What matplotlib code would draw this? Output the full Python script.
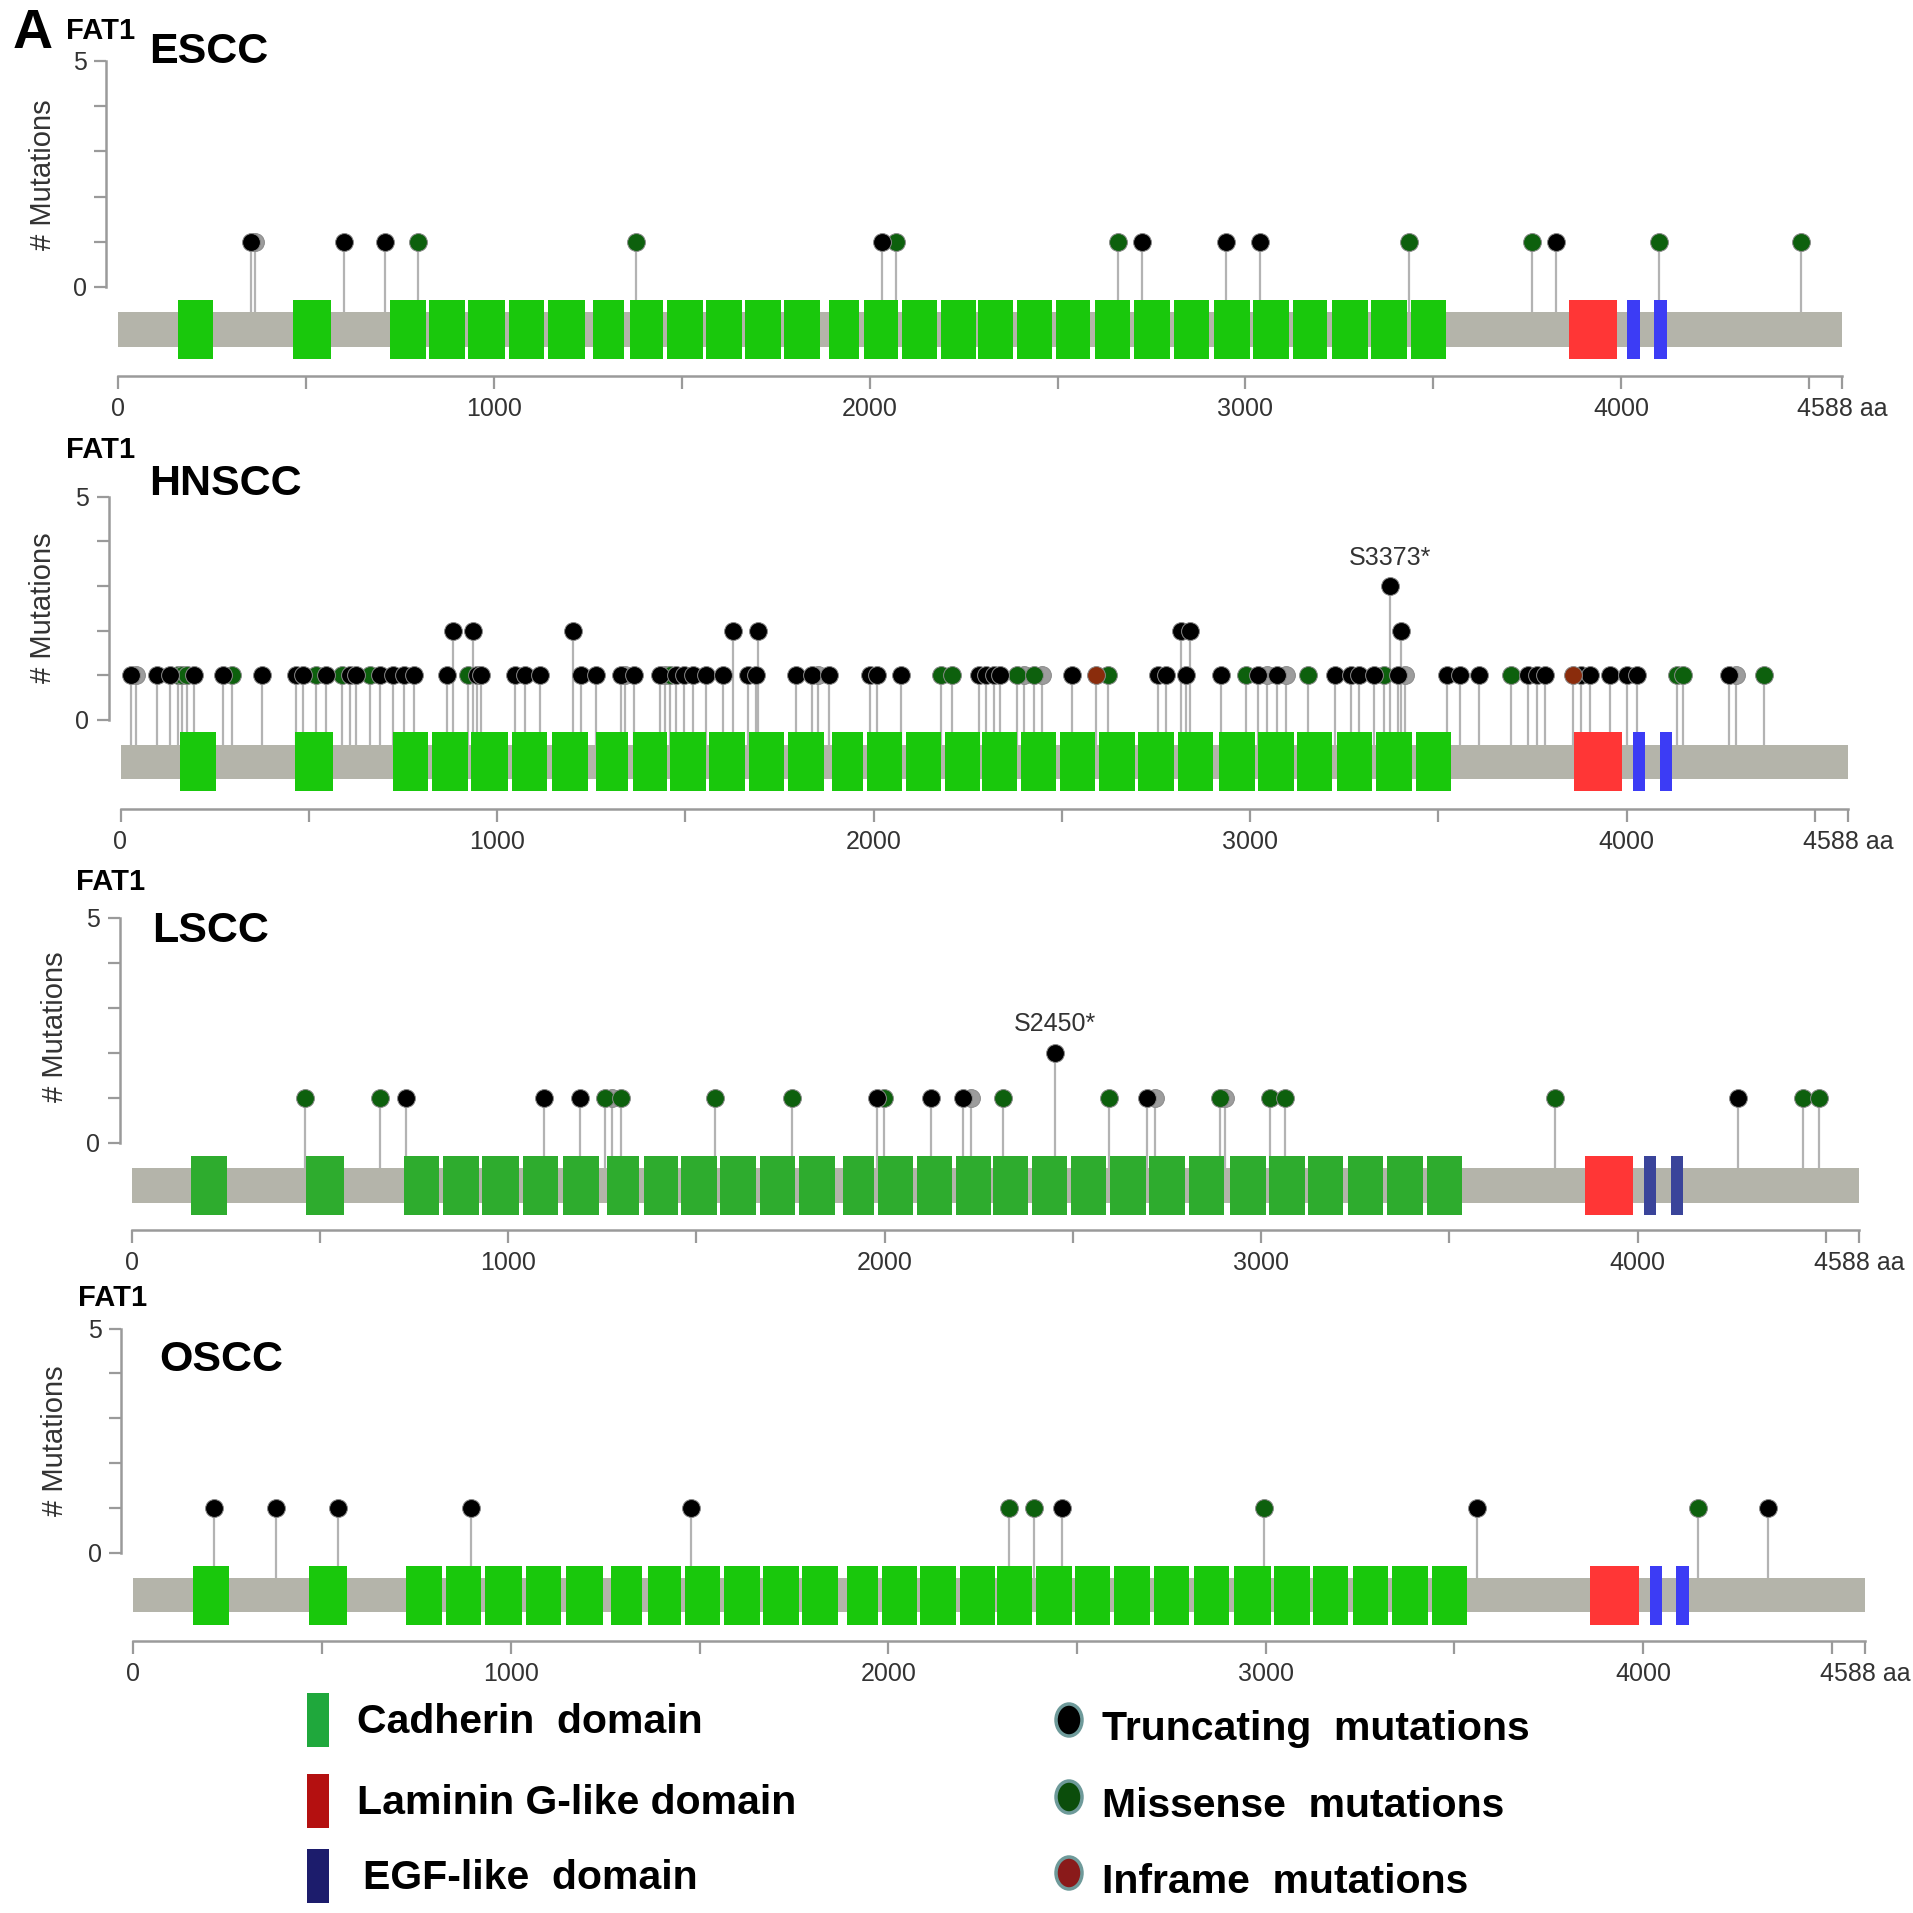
import matplotlib
matplotlib.use('Agg')
import matplotlib.pyplot as plt
from matplotlib.patches import Rectangle, Ellipse

plt.rcParams['font.family'] = ['Liberation Sans', 'DejaVu Sans']

PROTEIN_LEN = 4588

# ---------------- domains (aa) ----------------
cadherin_start = [158, 464, 723, 827, 931, 1041, 1145, 1264, 1362, 1460, 1564, 1668, 1772,
                  1891, 1984, 2085, 2189, 2287, 2391, 2495, 2599, 2703, 2810, 2917, 3021,
                  3126, 3230, 3334, 3441]
cadherin_end = [253, 565, 818, 922, 1029, 1133, 1243, 1347, 1451, 1555, 1659, 1763, 1868,
                1972, 2076, 2180, 2284, 2382, 2486, 2587, 2694, 2798, 2902, 3013, 3117,
                3218, 3325, 3429, 3533]
laminin_start = [3860]
laminin_end = [3988]
egf_start = [4017, 4088]
egf_end = [4050, 4122]

# ---------------- mutations ----------------
# T = truncating, M = missense, I = inframe, O = other/overlapping (grey)
escc_pos = [352, 365, 601, 710, 797, 1378, 2032, 2069, 2661, 2726, 2948, 3039, 3435, 3764,
            3826, 4101, 4480]
escc_cnt = [1] * 17
escc_type = ['T', 'O', 'T', 'T', 'M', 'M', 'T', 'M', 'M', 'T', 'T', 'T', 'M', 'M', 'T', 'M', 'M']

hnscc_pos = [27, 42, 96, 132, 154, 164, 177, 195, 273, 296, 375, 467, 484, 520, 545, 588, 610,
             625, 662, 688, 725, 754, 779, 866, 883, 924, 937, 947, 957, 1048, 1074, 1115,
             1201, 1224, 1262, 1330, 1340, 1364, 1432, 1445, 1460, 1475, 1496, 1521,
             1555, 1600, 1626, 1667, 1689, 1692, 1793, 1837, 1852, 1882, 1991, 2010, 2074,
             2180, 2208, 2279, 2299, 2320, 2335, 2381, 2401, 2426, 2447, 2528, 2592, 2624,
             2755, 2777, 2817, 2830, 2840, 2924, 2990, 3021, 3046, 3072,
             3096, 3154, 3227, 3268, 3289, 3330, 3357, 3373, 3393, 3401, 3413, 3523, 3557,
             3609, 3692, 3738, 3762, 3784, 3858, 3880, 3903, 3957, 4002, 4028, 4135, 4150,
             4272, 4292, 4366]
hnscc_cnt = [1, 1, 1, 1, 1, 1, 1, 1, 1, 1, 1, 1, 1, 1, 1, 1, 1,
             1, 1, 1, 1, 1, 1, 1, 2, 1, 2, 1, 1, 1, 1, 1,
             2, 1, 1, 1, 1, 1, 1, 1, 1, 1, 1, 1,
             1, 1, 2, 1, 1, 2, 1, 1, 1, 1, 1, 1, 1,
             1, 1, 1, 1, 1, 1, 1, 1, 1, 1, 1, 1, 1,
             1, 1, 2, 1, 2, 1, 1, 1, 1, 1,
             1, 1, 1, 1, 1, 1, 1, 3, 1, 2, 1, 1, 1,
             1, 1, 1, 1, 1, 1, 1, 1, 1, 1, 1, 1, 1,
             1, 1, 1]
hnscc_type = ['T', 'O', 'T', 'T', 'M', 'M', 'M', 'T', 'T', 'M', 'T', 'T', 'T', 'M', 'T', 'M', 'T',
              'T', 'M', 'T', 'T', 'T', 'T', 'T', 'T', 'M', 'T', 'T', 'T', 'T', 'T', 'T',
              'T', 'T', 'T', 'T', 'O', 'T', 'T', 'O', 'M', 'T', 'T', 'T',
              'T', 'T', 'T', 'T', 'T', 'T', 'T', 'T', 'O', 'T', 'T', 'T', 'T',
              'M', 'M', 'T', 'T', 'T', 'T', 'M', 'O', 'M', 'O', 'T', 'I', 'M',
              'T', 'T', 'T', 'T', 'T', 'T', 'M', 'T', 'O', 'T',
              'O', 'M', 'T', 'T', 'T', 'T', 'M', 'T', 'T', 'T', 'O', 'T', 'T',
              'T', 'M', 'T', 'T', 'T', 'I', 'T', 'T', 'T', 'T', 'T', 'M', 'M',
              'T', 'O', 'M']

lscc_pos = [460, 660, 730, 1095, 1192, 1257, 1277, 1299, 1549, 1754, 1980, 1999, 2123, 2208,
            2230, 2315, 2452, 2597, 2696, 2719, 2891, 2905, 3024, 3065, 3782, 4266, 4439, 4483]
lscc_cnt = [1, 1, 1, 1, 1, 1, 1, 1, 1, 1, 1, 1, 1, 1,
            1, 1, 2, 1, 1, 1, 1, 1, 1, 1, 1, 1, 1, 1]
lscc_type = ['M', 'M', 'T', 'T', 'T', 'M', 'O', 'M', 'M', 'M', 'T', 'M', 'T', 'T',
             'O', 'M', 'T', 'M', 'T', 'O', 'M', 'O', 'M', 'M', 'M', 'T', 'M', 'M']

oscc_pos = [214, 378, 541, 895, 1478, 2320, 2385, 2459, 2995, 3560, 4146, 4330]
oscc_cnt = [1] * 12
oscc_type = ['T', 'T', 'T', 'T', 'T', 'M', 'M', 'T', 'M', 'T', 'M', 'T']

panel_names = ['ESCC', 'HNSCC', 'LSCC', 'OSCC']
hotspot_labels = {'HNSCC': (3373, 3, 'S3373*'), 'LSCC': (2452, 2, 'S2450*')}

x_ticks = [0, 1000, 2000, 3000, 4000, 4588]
x_ticklabels = ['0', '1000', '2000', '3000', '4000', '4588 aa']
x_minor = [500, 1500, 2500, 3500, 4500]

legend_domains = ['Cadherin  domain', 'Laminin G-like domain', 'EGF-like  domain']
legend_mutations = ['Truncating  mutations', 'Missense  mutations', 'Inframe  mutations']

# ---------------- styles ----------------
W = 1913
type_color = {'T': '#000000', 'M': '#0d600d', 'I': '#8a2c0c', 'O': '#9c9c9c'}
grey_axis = '#9a9a9a'

panels = [
    dict(name='ESCC', pos=escc_pos, cnt=escc_cnt, typ=escc_type, x0=118.3, s=0.3757, spine=106,
         y0=287, u=45.2, axis=376, cad='#19c80c', egf='#3c3cf5',
         fat=(66, 31), title=(149, 52), ylab=(43, 175)),
    dict(name='HNSCC', pos=hnscc_pos, cnt=hnscc_cnt, typ=hnscc_type, x0=120.5, s=0.3765, spine=108.6,
         y0=719.8, u=44.6, axis=809, cad='#19c80c', egf='#3c3cf5',
         fat=(66, 450), title=(149, 484), ylab=(43, 608)),
    dict(name='LSCC', pos=lscc_pos, cnt=lscc_cnt, typ=lscc_type, x0=131.5, s=0.3765, spine=119.6,
         y0=1143, u=45.1, axis=1230, cad='#2eac2e', egf='#3a449a',
         fat=(76, 882), title=(152, 931), ylab=(55, 1027)),
    dict(name='OSCC', pos=oscc_pos, cnt=oscc_cnt, typ=oscc_type, x0=133.5, s=0.3774, spine=121,
         y0=1553, u=44.9, axis=1641, cad='#19c80c', egf='#3c3cf5',
         fat=(78, 1298), title=(159, 1360), ylab=(55, 1441)),
]

fig = plt.figure(figsize=(W / 100, W / 100), dpi=100)


def fx(px):
    return px / W


def fy(py):
    return 1 - py / W


BAR_C = -0.94
BAR_H = 0.38
DOM_H = 0.66

for P in panels:
    xmin = (P['spine'] - P['x0']) / P['s']
    xmax = 4700
    ybot = -(P['axis'] - P['y0']) / P['u']
    ytop = 5.6
    left_px = P['spine']
    right_px = P['x0'] + xmax * P['s']
    top_px = P['y0'] - ytop * P['u']
    bottom_px = P['axis']
    ax = fig.add_axes([fx(left_px), fy(bottom_px), (right_px - left_px) / W,
                       (bottom_px - top_px) / W])
    ax.set_xlim(xmin, xmax)
    ax.set_ylim(ybot, ytop)
    ax.patch.set_alpha(0)
    for sp in ['top', 'right']:
        ax.spines[sp].set_visible(False)
    ax.spines['left'].set_bounds(0, 5)
    ax.spines['bottom'].set_bounds(0, PROTEIN_LEN)
    for sp in ['left', 'bottom']:
        ax.spines[sp].set_color(grey_axis)
        ax.spines[sp].set_linewidth(1.8)
    ax.set_yticks(range(6))
    ax.set_yticklabels(['0', '', '', '', '', '5'])
    ax.tick_params(axis='y', length=9, width=1.6, color=grey_axis, labelsize=18,
                   labelcolor='#333333', pad=5)
    ax.set_xticks(x_ticks)
    ax.set_xticklabels(x_ticklabels)
    ax.set_xticks(x_minor, minor=True)
    ax.tick_params(axis='x', which='both', length=9, width=1.6, color=grey_axis,
                   labelsize=18, labelcolor='#333333', pad=6)

    # protein backbone
    ax.add_patch(Rectangle((0, BAR_C - BAR_H), PROTEIN_LEN, 2 * BAR_H, facecolor='#b4b4aa',
                           edgecolor='none', zorder=2))
    for s0, e0 in zip(cadherin_start, cadherin_end):
        ax.add_patch(Rectangle((s0, BAR_C - DOM_H), e0 - s0, 2 * DOM_H, facecolor=P['cad'],
                               edgecolor='none', zorder=3))
    for s0, e0 in zip(laminin_start, laminin_end):
        ax.add_patch(Rectangle((s0, BAR_C - DOM_H), e0 - s0, 2 * DOM_H, facecolor='#ff3636',
                               edgecolor='none', zorder=3))
    for s0, e0 in zip(egf_start, egf_end):
        ax.add_patch(Rectangle((s0, BAR_C - DOM_H), e0 - s0, 2 * DOM_H, facecolor=P['egf'],
                               edgecolor='none', zorder=3))

    # lollipops
    for p, c in zip(P['pos'], P['cnt']):
        ax.plot([p, p], [BAR_C + BAR_H, c], color='#b3b3b3', lw=1.6, zorder=1,
                solid_capstyle='butt')
    order = {'O': 0, 'T': 2, 'M': 1, 'I': 3}
    pts = sorted(zip(P['pos'], P['cnt'], P['typ']), key=lambda t: order[t[2]])
    for p, c, t in pts:
        ax.scatter([p], [c], s=165, c=type_color[t], edgecolors='#8a8a8a', linewidths=0.7,
                   zorder=5 + order[t])

    if P['name'] in hotspot_labels:
        hp, hc, lab = hotspot_labels[P['name']]
        ax.text(hp, hc + 0.63, lab, ha='center', va='center', fontsize=18, color='#333333')

    # titles
    fig.text(fx(P['fat'][0]), fy(P['fat'][1]), 'FAT1', fontsize=21, fontweight='bold',
             ha='left', va='center')
    fig.text(fx(P['title'][0]), fy(P['title'][1]), P['name'], fontsize=31, fontweight='bold',
             ha='left', va='center')
    fig.text(fx(P['ylab'][0]), fy(P['ylab'][1]), '# Mutations', fontsize=21, rotation=90,
             ha='center', va='center', color='#333333')

fig.text(fx(13), fy(34), 'A', fontsize=40, fontweight='bold', ha='left', va='center')

# ---------------- legend ----------------
lax = fig.add_axes([0, 0, 1, 1])
lax.set_xlim(0, W)
lax.set_ylim(W, 0)
lax.axis('off')
lax.patch.set_alpha(0)

dom_colors = ['#1fa83c', '#b41010', '#1c1c6c']
dom_rows = [1720, 1801, 1876]
dom_text_x = [357, 357, 363]
for lab, col, yc, tx in zip(legend_domains, dom_colors, dom_rows, dom_text_x):
    lax.add_patch(Rectangle((307, yc - 27), 22, 54, facecolor=col, edgecolor='none'))
    lax.text(tx, yc + 2, lab, fontsize=29.5, fontweight='bold', ha='left', va='center')

mut_colors = ['#000000', '#0b4d0b', '#8a1a1a']
mut_rows = [1724, 1801, 1877]
for lab, col, yc in zip(legend_mutations, mut_colors, mut_rows):
    lax.add_patch(Ellipse((1069, yc - 4), 26, 32, facecolor=col, edgecolor='#6e9a9a', lw=2.5))
    lax.text(1102, yc + 5, lab, fontsize=29.5, fontweight='bold', ha='left', va='center')

fig.savefig('out.png', dpi=100)
